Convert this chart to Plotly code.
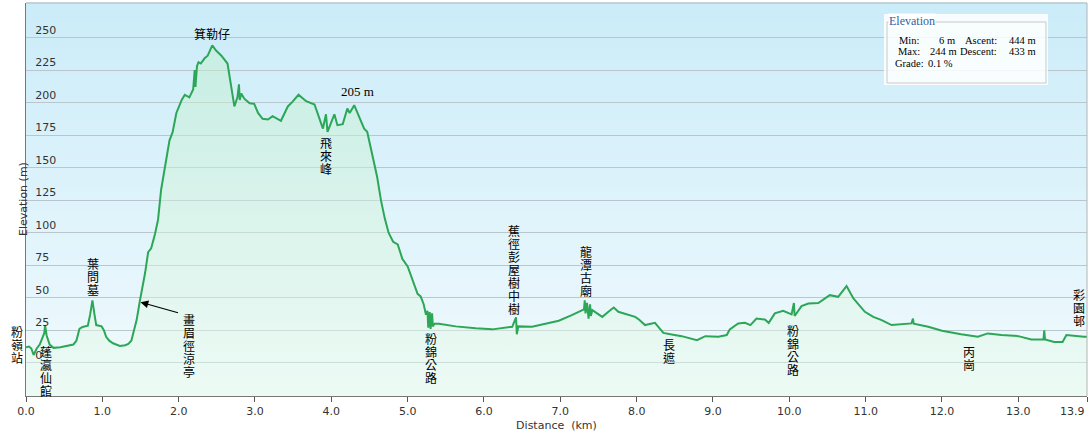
import plotly.graph_objects as go

# elevation profile (distance km, elevation m)
dist_km = [0.00, 0.04, 0.07, 0.10, 0.14, 0.18, 0.22, 0.24, 0.25, 0.26, 0.27, 0.31, 0.36, 0.45,
           0.53, 0.62, 0.66, 0.70, 0.74, 0.77, 0.81, 0.84, 0.87, 0.90, 0.92, 0.99, 1.02, 1.05,
           1.09, 1.14, 1.23, 1.30, 1.34, 1.38, 1.40, 1.45, 1.49, 1.56, 1.60, 1.64, 1.69, 1.73,
           1.77, 1.84, 1.88, 1.92, 1.97, 2.04, 2.08, 2.14, 2.19, 2.21, 2.22, 2.24, 2.26, 2.29,
           2.34, 2.38, 2.44, 2.49, 2.56, 2.64, 2.69, 2.73, 2.77, 2.79, 2.80, 2.82, 2.86, 2.93,
           2.99, 3.04, 3.10, 3.17, 3.23, 3.34, 3.43, 3.49, 3.57, 3.67, 3.78, 3.84, 3.89, 3.93,
           3.95, 4.00, 4.04, 4.08, 4.15, 4.21, 4.24, 4.30, 4.37, 4.43, 4.47, 4.54, 4.60, 4.65,
           4.70, 4.75, 4.81, 4.87, 4.93, 5.00, 5.06, 5.13, 5.17, 5.21, 5.24, 5.26, 5.27, 5.29,
           5.30, 5.32, 5.33, 5.35, 5.41, 5.63, 5.89, 6.11, 6.37, 6.42, 6.43, 6.45, 6.63, 6.81,
           6.98, 7.15, 7.30, 7.31, 7.32, 7.33, 7.35, 7.37, 7.39, 7.40, 7.42, 7.55, 7.63, 7.70,
           7.76, 7.90, 7.98, 8.03, 8.11, 8.24, 8.35, 8.46, 8.59, 8.79, 8.90, 9.07, 9.18, 9.22,
           9.33, 9.42, 9.49, 9.57, 9.68, 9.73, 9.81, 9.92, 10.03, 10.06, 10.07, 10.16, 10.25,
           10.38, 10.53, 10.64, 10.75, 10.84, 10.99, 11.10, 11.21, 11.34, 11.60, 11.62, 11.63,
           11.82, 12.00, 12.25, 12.47, 12.60, 12.78, 13.00, 13.17, 13.33, 13.34, 13.35, 13.47,
           13.58, 13.63, 13.86, 13.90]
elev_m = [12, 12.5, 11, 6, 11, 14, 20, 23, 29, 22, 21, 14, 11.5, 12,
          13, 14, 17, 26, 27.5, 28, 28.5, 37, 48, 36, 29, 28, 25, 20,
          17, 15, 13, 13.5, 14.5, 17, 21, 33, 47, 69, 85, 88, 99, 110,
          133, 156, 171, 177, 192, 202, 206, 204, 210, 225, 212, 228, 231, 230,
          234, 236, 244, 240, 236, 230, 212, 197, 204, 214, 202, 207, 203, 199.5,
          199, 192, 187.5, 187, 189.5, 186, 197, 200.5, 206, 201, 198.5, 189, 180, 191,
          177.5, 185, 191, 182.6, 183.4, 195.4, 192, 198, 188, 180, 177.5, 158, 143, 125,
          111, 100, 93, 91, 80, 74, 63.5, 53, 51, 45, 37, 40, 27, 39,
          26, 38, 28, 30, 30, 28, 26.5, 25.7, 27.7, 35, 22, 28, 27.7, 30.3,
          32.3, 36.6, 40.5, 41, 48, 38, 46, 34, 45, 36, 40.5, 35.3, 39.2, 42.5,
          39.2, 36.6, 35.3, 33.3, 29, 30.7, 23, 21.8, 20.5, 17.4, 20.5, 20, 21.3, 25.6,
          30.3, 30.7, 29, 34, 33.3, 30.7, 38, 40, 37.2, 46, 36, 43.6, 45.6,
          46, 52, 50.7, 59, 49.5, 39.2, 35.3, 32.8, 29, 30.3, 34, 30,
          27.7, 24.6, 22, 20, 22.6, 21.3, 20.5, 18, 18, 25, 18, 16,
          16, 21.3, 20, 20]

y_ticks = [0, 25, 50, 75, 100, 125, 150, 175, 200, 225, 250]
x_ticks = [0, 1, 2, 3, 4, 5, 6, 7, 8, 9, 10, 11, 12, 13]
x_end_label = "13.9"

# place names along the route: text, km, elevation of the top character
label_text = ["粉嶺站", "蓬瀛仙館", "葉問墓", "畫眉徑涼亭", "飛來峰", "粉錦公路", "蕉徑彭屋樹中樹",
              "龍潭古廟", "長遮", "粉錦公路", "丙崗", "彩園邨"]
label_km = [0.0, 0.26, 0.88, 2.14, 3.93, 5.31, 6.39, 7.33, 8.43, 10.05, 12.35, 13.79]
label_top = [29, 13.6, 81, 38, 174, 23.6, 107, 90.4, 19, 29.7, 13.6, 57.4]

peak_name, peak_km, peak_m = "箕勒仔", 2.44, 245
hill_note, hill_km, hill_m = "205 m", 4.34, 201
pavilion_km, pavilion_m = 1.50, 46.6

stats = [["Min:", "6 m", "Ascent:", "444 m"],
         ["Max:", "244 m", "Descent:", "433 m"]]
grade = ["Grade:", "0.1 %"]

Y_MIN, Y_MAX = -25.5, 276.5
X_MAX = 13.9

# plot area in pixels, for layout helpers
L, R, T, B = 26, 1087, 3, 396


def px(x):
    return (x - L) / (R - L)


def py(y):
    return (B - y) / (B - T)


fig = go.Figure()

# baseline for the fill down to the bottom of the axis
fig.add_trace(go.Scatter(x=[0, X_MAX], y=[Y_MIN, Y_MIN], mode="lines",
                         line=dict(width=0), hoverinfo="skip", showlegend=False))
fig.add_trace(go.Scatter(
    x=dist_km, y=elev_m, mode="lines", fill="tonexty",
    line=dict(color="#2ca657", width=2),
    fillgradient=dict(type="vertical", start=Y_MIN, stop=250,
                      colorscale=[[0, "rgba(232,250,234,0.45)"], [1, "rgba(192,238,204,0.5)"]]),
    hoverinfo="skip", showlegend=False))

shapes = []
# sky gradient behind the grid
n = 60
top_c, bot_c = (203, 236, 249), (241, 250, 253)
for i in range(n):
    f = i / (n - 1)
    c = tuple(round(bot_c[k] + (top_c[k] - bot_c[k]) * f) for k in range(3))
    shapes.append(dict(type="rect", xref="paper", yref="paper", x0=0, x1=1,
                       y0=i / n, y1=(i + 1) / n + 0.002, line=dict(width=0),
                       fillcolor="rgb(%d,%d,%d)" % c, layer="below"))
# light frame on top and right
shapes.append(dict(type="line", xref="paper", yref="paper", x0=0, x1=1, y0=1, y1=1,
                   line=dict(color="#b4b4b4", width=1)))
shapes.append(dict(type="line", xref="paper", yref="paper", x0=1, x1=1, y0=0, y1=1,
                   line=dict(color="#b4b4b4", width=1)))
# stats box
shapes.append(dict(type="rect", xref="paper", yref="paper", x0=px(884), x1=px(1048),
                   y0=py(85), y1=py(14), line=dict(width=0), fillcolor="rgba(255,255,255,0.85)"))
shapes.append(dict(type="rect", xref="paper", yref="paper", x0=px(887), x1=px(1046),
                   y0=py(83), y1=py(22), line=dict(color="#c8c8c8", width=1)))

ann = []
cjk = dict(family="Noto Sans CJK TC", size=12, color="black")
for i, (txt, km, top) in enumerate(zip(label_text, label_km, label_top)):
    dx = -9 if i == 0 else 0
    for j, ch in enumerate(txt):
        ann.append(dict(x=km, y=top, text=ch, showarrow=False, xanchor="center", yanchor="top",
                        height=13, borderpad=0, xshift=dx, yshift=-13 * j + 1, font=cjk))
ann.append(dict(x=peak_km, y=peak_m, text=peak_name, showarrow=False, yanchor="bottom", font=cjk))
ann.append(dict(x=hill_km, y=hill_m, text=hill_note, showarrow=False, yanchor="bottom",
                font=dict(family="Liberation Serif", size=13, color="black")))
ann.append(dict(x=pavilion_km, y=pavilion_m, text="", showarrow=True, ax=39, ay=11,
                arrowhead=2, arrowsize=1.3, arrowwidth=1.2, arrowcolor="black"))

tick_font = dict(family="DejaVu Sans", size=11, color="#333333")
ann.append(dict(xref="paper", yref="paper", x=0, y=0.5, xshift=-11, text="Elevation (m)",
                textangle=-90, showarrow=False, font=tick_font))
# last distance label sits flush against the right edge
ann.append(dict(x=X_MAX, xref="x", yref="paper", y=0, yshift=-7, text=x_end_label,
                showarrow=False, xanchor="right", yanchor="top", font=tick_font))

ser = dict(family="Liberation Serif", size=10.5, color="black")
ann.append(dict(xref="paper", yref="paper", x=px(888), y=py(21), text="Elevation", showarrow=False,
                xanchor="left", yanchor="middle", bgcolor="rgba(255,255,255,0.95)", borderpad=0,
                font=dict(family="Liberation Serif", size=12, color="#2f5ea8")))
col_right = [[922, 957, 999, 1038], [922, 959, 999, 1038]]
for r, row in enumerate(stats):
    for c, cell in enumerate(row):
        ann.append(dict(xref="paper", yref="paper", x=px(col_right[r][c]), y=py(40 + 12 * r),
                        text=cell, showarrow=False, xanchor="right", yanchor="middle", font=ser))
for c, cell in enumerate(grade):
    ann.append(dict(xref="paper", yref="paper", x=px([893, 926][c]), y=py(63), text=cell,
                    showarrow=False, xanchor="left", yanchor="middle", font=ser))

fig.update_layout(
    width=1092, height=442,
    margin=dict(l=L, r=1092 - R, t=T, b=442 - B, autoexpand=False),
    paper_bgcolor="white", plot_bgcolor="rgba(0,0,0,0)",
    shapes=shapes, annotations=ann, showlegend=False,
    xaxis=dict(range=[0, X_MAX], tickvals=x_ticks + [X_MAX],
               ticktext=["%.1f" % v for v in x_ticks] + [""],
               ticks="outside", ticklen=5, tickcolor="#555555", showgrid=False, zeroline=False,
               showline=True, linecolor="#777777", linewidth=1, tickfont=tick_font,
               automargin=False, ticklabeloverflow="allow",
               title=dict(text="Distance\u00a0\u00a0(km)", font=tick_font, standoff=4)),
    yaxis=dict(range=[Y_MIN, Y_MAX], tickvals=y_ticks, ticks="", ticklabelposition="inside top",
               ticklabelstandoff=8, showgrid=True, gridcolor="#b9c6cb", gridwidth=1,
               zeroline=False, showline=True, linecolor="#777777", linewidth=1,
               tickfont=tick_font, automargin=False, ticklabeloverflow="allow"),
)

# the page body has a default 8px margin; drop it so the figure sits at the corner
fig.write_html("out.html", config={"displayModeBar": False},
               post_script="document.body.style.margin='0';")
